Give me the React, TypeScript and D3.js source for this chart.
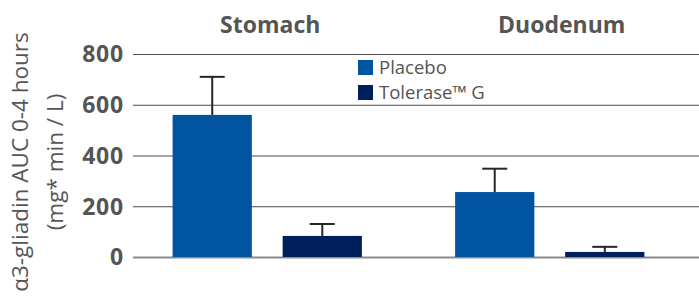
import React, { useEffect, useRef } from "react";
import * as d3 from "d3";

const regions = ["Stomach", "Duodenum"];
const series = ["Placebo", "Tolerase™ G"];
const means = [
  [560, 83],
  [256, 20],
];
const errorTops = [
  [710, 130],
  [348, 40],
];
const yTicks = [0, 200, 400, 600, 800];
const colors = ["#0054a0", "#001f5b"];

function App() {
  const ref = useRef<SVGSVGElement | null>(null);
  const width = 699;
  const height = 301;

  useEffect(() => {
    const svg = d3.select(ref.current);
    svg.selectAll("*").remove();
    svg
      .attr("width", width)
      .attr("height", height)
      .attr("viewBox", [0, 0, width, height])
      .style("display", "block")
      .style("font-family", "'Open Sans', sans-serif");

    const y = d3.scaleLinear().domain([0, 800]).range([257, 54]);
    const x0 = d3
      .scaleBand()
      .domain(regions)
      .range([126, 691])
      .paddingInner(0.33)
      .paddingOuter(0.165);
    const x1 = d3
      .scaleBand()
      .domain(series)
      .range([0, x0.bandwidth()])
      .paddingInner(0.28);

    // grid lines
    svg
      .append("g")
      .selectAll("line")
      .data(yTicks)
      .join("line")
      .attr("x1", 133)
      .attr("x2", width)
      .attr("y1", (d) => y(d) + 0.5)
      .attr("y2", (d) => y(d) + 0.5)
      .attr("stroke", (d) => (d === 0 ? "#8a8a8a" : "#4a4a4a"))
      .attr("stroke-width", (d) => (d === 0 ? 2 : 1.2));

    svg
      .append("g")
      .selectAll("text")
      .data(yTicks)
      .join("text")
      .attr("x", 124)
      .attr("y", (d) => y(d))
      .attr("dy", "0.36em")
      .attr("text-anchor", "end")
      .attr("font-size", 23)
      .attr("letter-spacing", 0.8)
      .attr("font-weight", "bold")
      .attr("fill", "#555")
      .text((d) => d);

    // axis title
    const title = svg
      .append("text")
      .attr("transform", "translate(0,162) rotate(-90)")
      .attr("text-anchor", "middle")
      .attr("font-size", 22.5)
      .attr("fill", "#555");
    title.append("tspan").attr("x", 0).attr("y", 28).text("α3-gliadin AUC 0-4 hours");
    title.append("tspan").attr("x", 0).attr("y", 63).text("(mg* min / L)");

    // region labels
    const labelShift = [3, 12];
    svg
      .append("g")
      .selectAll("text")
      .data(regions)
      .join("text")
      .attr("x", (d, i) => (x0(d) as number) + x0.bandwidth() / 2 + labelShift[i])
      .attr("y", 33)
      .attr("text-anchor", "middle")
      .attr("font-size", 23)
      .attr("font-weight", "bold")
      .attr("fill", "#555")
      .text((d) => d);

    // bars
    const groups = svg
      .append("g")
      .selectAll("g")
      .data(regions)
      .join("g")
      .attr("transform", (d) => `translate(${x0(d)},0)`);

    groups
      .selectAll("rect")
      .data((d, i) => series.map((s, j) => ({ s, v: means[i][j], e: errorTops[i][j], j })))
      .join("rect")
      .attr("x", (d) => x1(d.s) as number)
      .attr("width", x1.bandwidth())
      .attr("y", (d) => y(d.v))
      .attr("height", (d) => y(0) - y(d.v))
      .attr("fill", (d) => colors[d.j]);

    const err = groups
      .selectAll("g.err")
      .data((d, i) => series.map((s, j) => ({ s, v: means[i][j], e: errorTops[i][j] })))
      .join("g")
      .attr("class", "err")
      .attr("stroke", "#262626")
      .attr("stroke-width", 2);
    err
      .append("line")
      .attr("x1", (d) => (x1(d.s) as number) + x1.bandwidth() / 2)
      .attr("x2", (d) => (x1(d.s) as number) + x1.bandwidth() / 2)
      .attr("y1", (d) => y(d.v))
      .attr("y2", (d) => y(d.e));
    err
      .append("line")
      .attr("x1", (d) => (x1(d.s) as number) + x1.bandwidth() / 2 - 12.5)
      .attr("x2", (d) => (x1(d.s) as number) + x1.bandwidth() / 2 + 12.5)
      .attr("y1", (d) => y(d.e))
      .attr("y2", (d) => y(d.e));

    // legend
    const legend = svg
      .append("g")
      .selectAll("g")
      .data(series)
      .join("g")
      .attr("transform", (d, i) => `translate(358,${60 + i * 25})`);
    legend
      .append("rect")
      .attr("width", 15)
      .attr("height", 15)
      .attr("fill", (d, i) => colors[i]);
    legend
      .append("text")
      .attr("x", 21)
      .attr("y", 7.5)
      .attr("dy", "0.36em")
      .attr("font-size", 18.5)
      .attr("fill", "#555")
      .text((d) => d);
  }, []);

  return <svg ref={ref} style={{ position: "absolute", left: 0, top: 0 }}></svg>;
}

export default App;
